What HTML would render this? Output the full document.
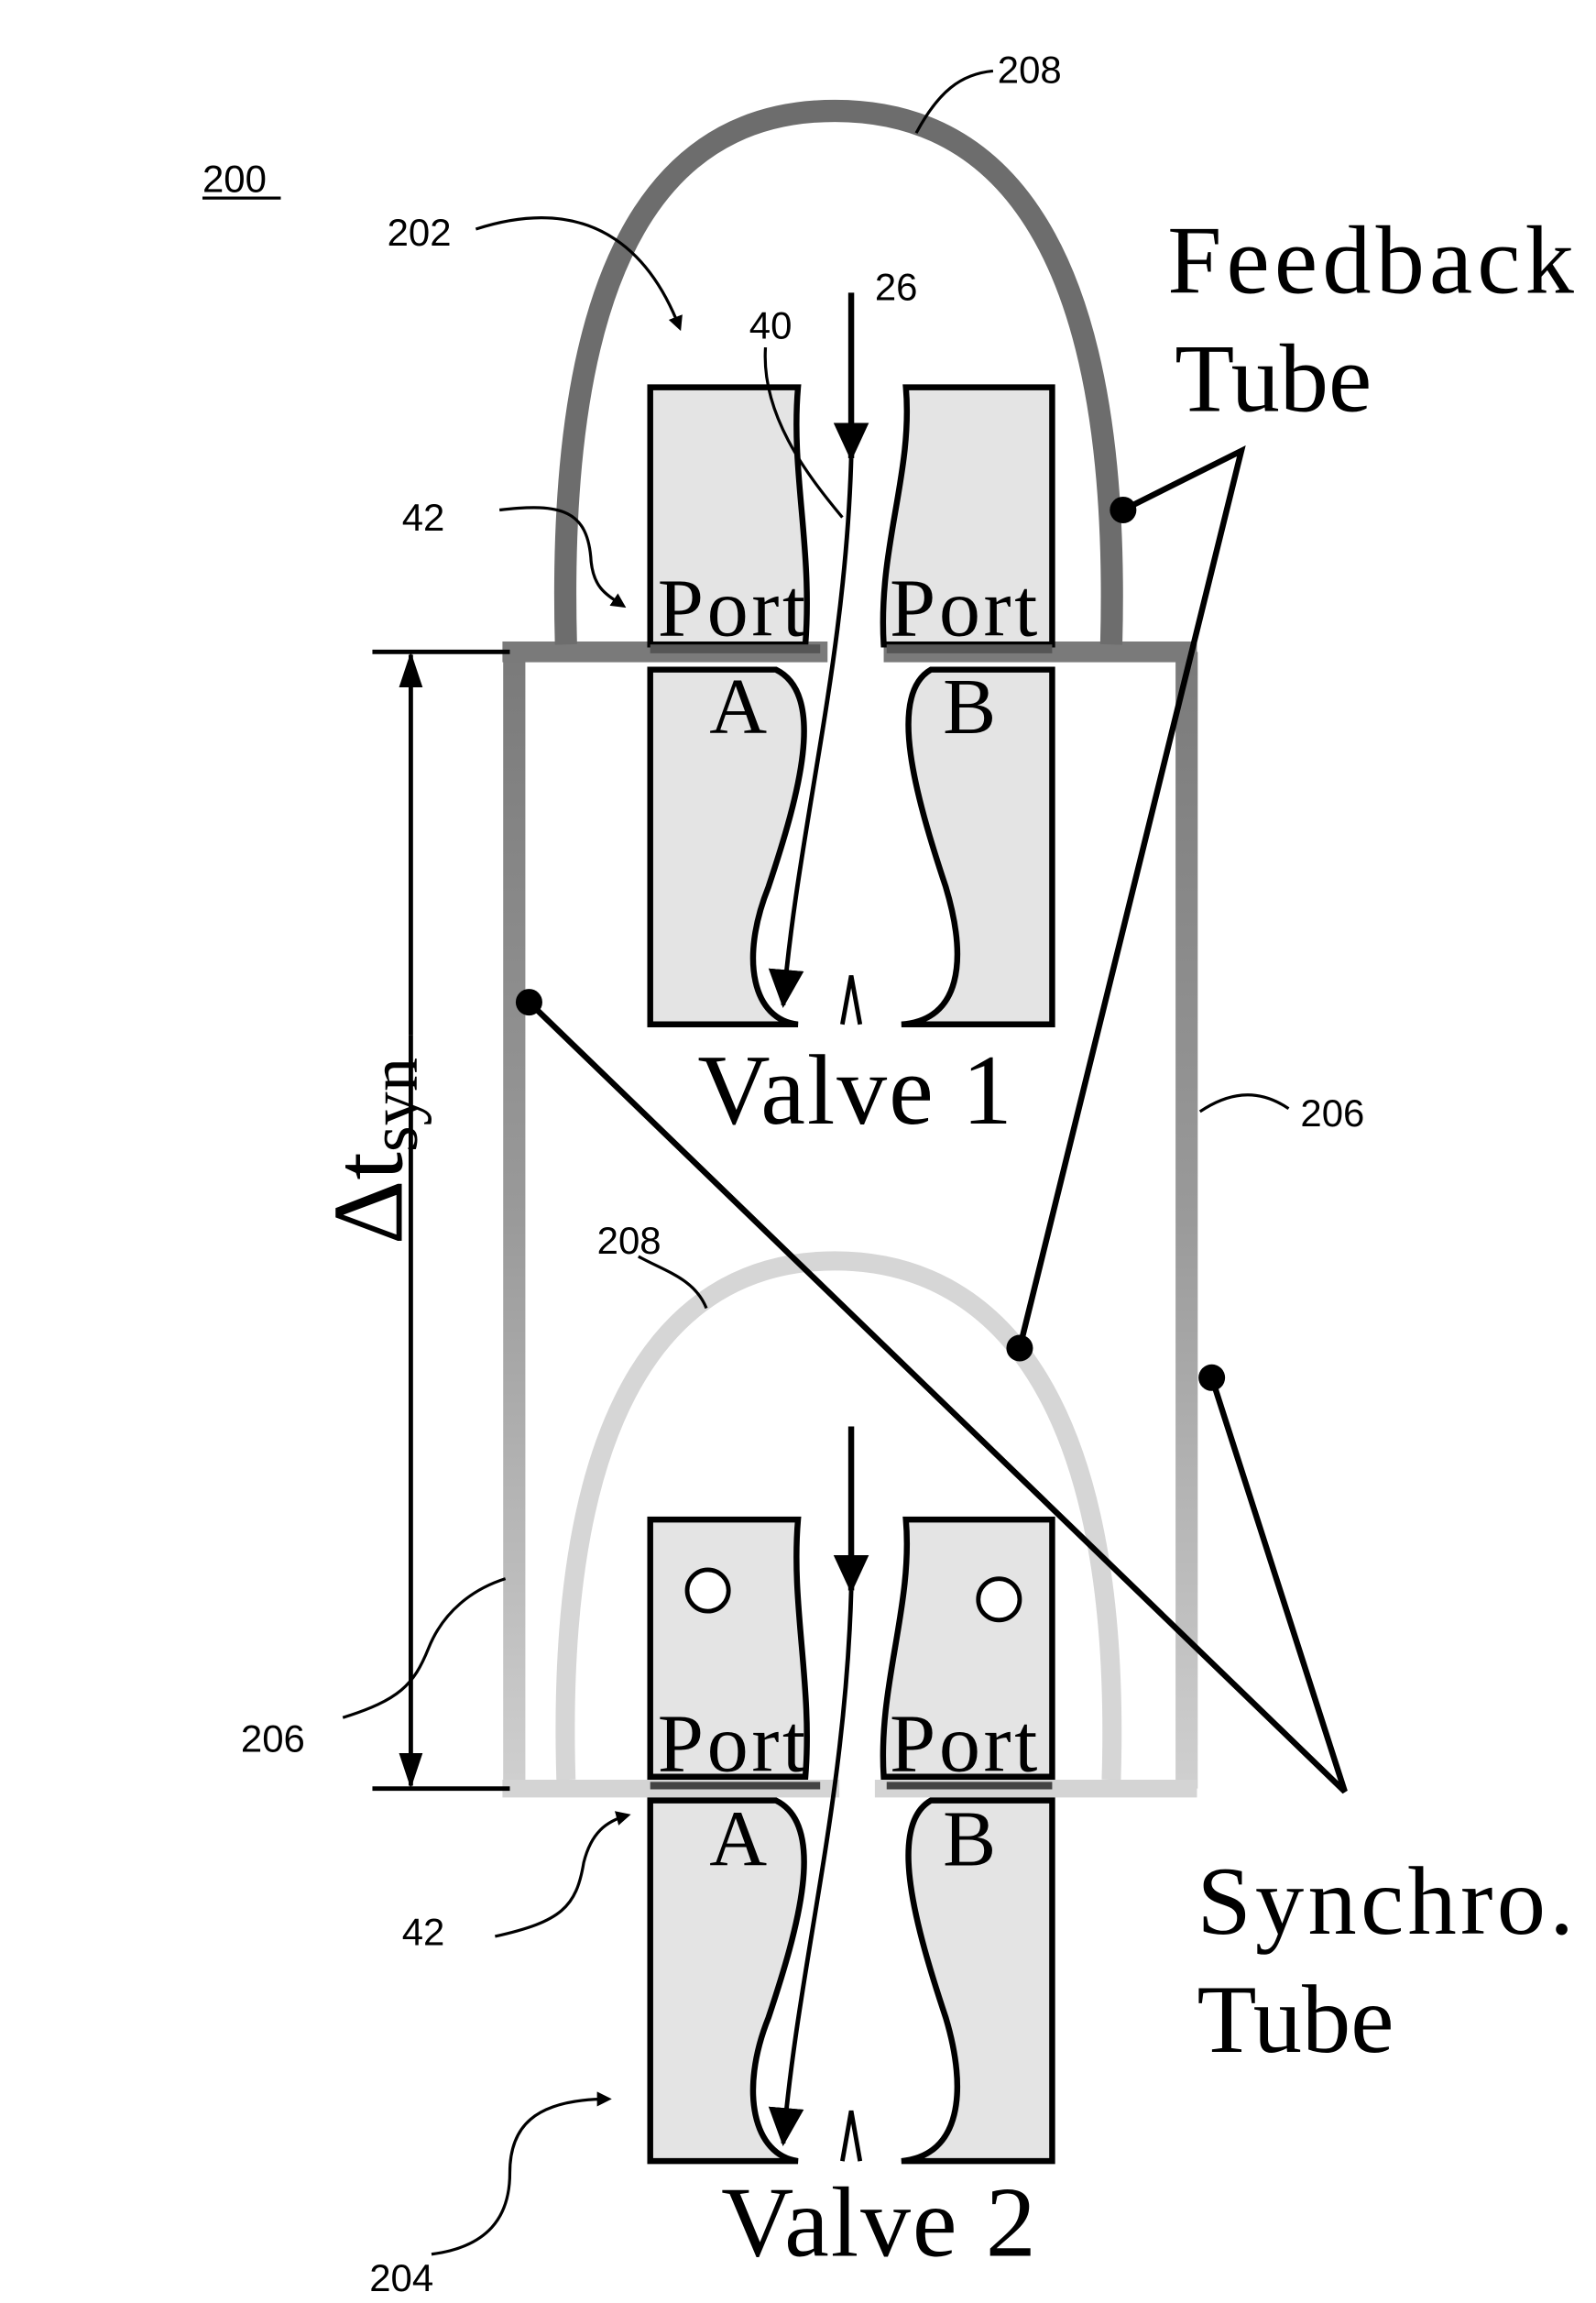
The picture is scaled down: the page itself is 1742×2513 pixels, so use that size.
<!DOCTYPE html>
<html><head><style>html,body{margin:0;padding:0;background:#fff}svg{display:block}</style></head>
<body>
<svg width="1742" height="2513" viewBox="0 0 1080 1558" xmlns="http://www.w3.org/2000/svg" font-family="Liberation Sans, sans-serif">
<defs>
<marker id="ah" markerWidth="10" markerHeight="10" refX="8" refY="5" orient="auto" markerUnits="userSpaceOnUse"><path d="M0,0 L10,5 L0,10 z" fill="#000"/></marker>
<marker id="big" markerWidth="26" markerHeight="30" refX="24" refY="15" orient="auto" markerUnits="userSpaceOnUse"><path d="M0,3 L26,15 L0,27 z" fill="#000"/></marker>
<marker id="dim" markerWidth="24" markerHeight="20" refX="22" refY="10" orient="auto" markerUnits="userSpaceOnUse"><path d="M0,2 L24,10 L0,18 z" fill="#000"/></marker>
<linearGradient id="sg" x1="0" y1="0" x2="0" y2="1"><stop offset="0" stop-color="#7a7a7a"/><stop offset="0.5" stop-color="#9a9a9a"/><stop offset="1" stop-color="#d0d0d0"/></linearGradient>
</defs>
<rect width="1080" height="1558" fill="#fff"/>
<!-- synchro tube -->
<path d="M348,1210 L348,441 M803,441 L803,1210" fill="none" stroke="url(#sg)" stroke-width="15"/>
<path d="M340,441 L560,441 M598,441 L810,441" stroke="#7a7a7a" stroke-width="14"/>
<path d="M340,1210 L568,1210 M592,1210 L810,1210" stroke="#d4d4d4" stroke-width="12"/>
<!-- feedback tubes -->
<path d="M383,436 C375,140 470,75 565,75 C660,75 760,140 752,436" fill="none" stroke="#6d6d6d" stroke-width="15"/>
<path d="M383,1204 C375,940 460,853 565,853 C670,853 760,940 752,1204" fill="none" stroke="#d6d6d6" stroke-width="13"/>
<!-- valve blocks -->
<g fill="#e4e4e4" stroke="#000" stroke-width="4">
<path d="M440,262 L540,262 C535,320 550,370 545,436 L440,436 Z"/>
<path d="M613,262 L712,262 L712,436 L598,436 C594,370 618,320 613,262 Z"/>
<path d="M440,453 L525,453 C560,470 540,540 520,600 C500,650 510,690 540,693 L440,693 Z"/>
<path d="M630,453 L712,453 L712,693 L610,693 C650,690 655,650 640,600 C620,540 600,470 630,453 Z"/>
<path d="M440,1028 L540,1028 C535,1086 550,1140 545,1202 L440,1202 Z"/>
<path d="M613,1028 L712,1028 L712,1202 L598,1202 C594,1140 618,1086 613,1028 Z"/>
<path d="M440,1218 L525,1218 C560,1235 540,1305 520,1365 C500,1415 510,1458 540,1462 L440,1462 Z"/>
<path d="M630,1218 L712,1218 L712,1462 L610,1462 C650,1458 655,1415 640,1365 C620,1305 600,1235 630,1218 Z"/>
</g>
<path d="M440,439 L555,439 M600,439 L712,439" stroke="#555" stroke-width="6"/>
<path d="M440,1208 L555,1208 M600,1208 L712,1208" stroke="#444" stroke-width="5"/>
<path d="M570,693 L576,660 L582,693" fill="none" stroke="#000" stroke-width="3"/>
<path d="M570,1462 L576,1428 L582,1462" fill="none" stroke="#000" stroke-width="3"/>
<circle cx="479" cy="1076" r="14" fill="#fff" stroke="#000" stroke-width="3"/>
<circle cx="676" cy="1082" r="14" fill="#fff" stroke="#000" stroke-width="3"/>
<!-- flow arrows -->
<line x1="576" y1="198" x2="576" y2="310" stroke="#000" stroke-width="4" marker-end="url(#big)"/>
<path d="M576,310 C572,450 540,560 530,680" fill="none" stroke="#000" stroke-width="3" marker-end="url(#big)"/>
<line x1="576" y1="965" x2="576" y2="1076" stroke="#000" stroke-width="4" marker-end="url(#big)"/>
<path d="M576,1076 C572,1220 540,1330 530,1450" fill="none" stroke="#000" stroke-width="3" marker-end="url(#big)"/>
<!-- text -->
<g font-family="Liberation Serif, serif" fill="#000">
<text x="445" y="430" font-size="56" textLength="100">Port</text>
<text x="602" y="430" font-size="56" textLength="100">Port</text>
<text x="480" y="496" font-size="54">A</text>
<text x="638" y="496" font-size="54">B</text>
<text x="445" y="1198" font-size="56" textLength="100">Port</text>
<text x="602" y="1198" font-size="56" textLength="100">Port</text>
<text x="480" y="1262" font-size="54">A</text>
<text x="638" y="1262" font-size="54">B</text>
<text x="472" y="760" font-size="68" textLength="213">Valve 1</text>
<text x="488" y="1526" font-size="68" textLength="213">Valve 2</text>
<text x="790" y="198" font-size="66" textLength="275">Feedback</text>
<text x="795" y="278" font-size="66">Tube</text>
<text x="810" y="1308" font-size="66" textLength="255">Synchro.</text>
<text x="810" y="1388" font-size="66">Tube</text>
<text transform="translate(272,842) rotate(-90)" font-size="68">Δt<tspan font-size="46" dy="10">syn</tspan></text>
</g>
<g font-size="26" fill="#000">
<text x="137" y="130">200</text>
<line x1="137" y1="134" x2="190" y2="134" stroke="#000" stroke-width="2"/>
<text x="675" y="56">208</text>
<text x="262" y="166">202</text>
<text x="592" y="203">26</text>
<text x="507" y="229">40</text>
<text x="272" y="359">42</text>
<text x="880" y="762">206</text>
<text x="404" y="848">208</text>
<text x="163" y="1185">206</text>
<text x="272" y="1316">42</text>
<text x="250" y="1550">204</text>
</g>
<!-- leaders -->
<g fill="none" stroke="#000" stroke-width="2">
<path d="M672,48 C650,50 635,62 620,90"/>
<path d="M322,155 C400,130 440,170 460,222" marker-end="url(#ah)"/>
<path d="M518,235 C515,280 545,320 570,350"/>
<path d="M338,345 C380,340 398,345 400,380 C402,398 410,402 422,410" marker-end="url(#ah)"/>
<path d="M872,750 C850,735 830,740 812,752"/>
<path d="M432,850 C450,860 470,865 478,885"/>
<path d="M232,1162 C270,1150 280,1140 290,1115 C300,1090 320,1075 342,1068"/>
<path d="M335,1310 C380,1300 390,1290 395,1260 C400,1240 410,1232 425,1228" marker-end="url(#ah)"/>
<path d="M292,1525 C330,1520 345,1500 345,1470 C345,1440 360,1420 412,1420" marker-end="url(#ah)"/>
</g>
<!-- callouts -->
<g stroke="#000" stroke-width="4" fill="none">
<path d="M760,345 L840,305 L690,912"/>
<path d="M358,678 L910,1212 L820,932"/>
</g>
<g fill="#000"><circle cx="760" cy="345" r="9"/><circle cx="690" cy="912" r="9"/><circle cx="358" cy="678" r="9"/><circle cx="820" cy="932" r="9"/></g>
<!-- dimension -->
<g stroke="#000" stroke-width="3">
<line x1="252" y1="441" x2="345" y2="441"/>
<line x1="252" y1="1210" x2="345" y2="1210"/>
<line x1="278" y1="700" x2="278" y2="443" marker-end="url(#dim)"/>
<line x1="278" y1="700" x2="278" y2="1208" marker-end="url(#dim)"/>
</g>
</svg>
</body></html>
